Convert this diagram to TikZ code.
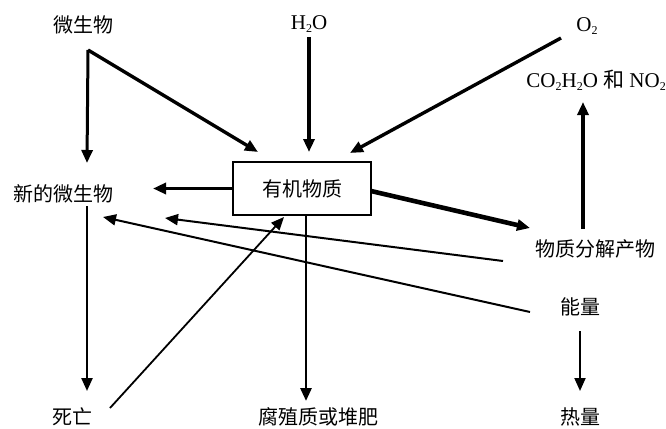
\documentclass[tikz,border=0pt]{standalone}
\usepackage{fontspec}
\setmainfont{Liberation Serif}
\newfontfamily\cjk{Noto Sans CJK SC}
\usetikzlibrary{arrows.meta,calc}
\newcommand\lowtwo{\raisebox{-0.35ex}{\fontsize{12}{12}\selectfont 2}}
\tikzset{
  lbl/.style={inner sep=0pt,font=\cjk\fontsize{20}{22}\selectfont},
  lat/.style={inner sep=0pt,font=\fontsize{21}{24}\selectfont},
  mbox/.style={draw,line width=2.4pt,minimum width=138pt,minimum height=53pt,inner sep=0pt,font=\cjk\fontsize{20}{22}\selectfont},
  arr/.style={-{Triangle[length=13pt,width=11pt]},line width=3pt},
  thinarr/.style={-{Triangle[length=13pt,width=11pt]},line width=2pt}
}
\begin{document}
\begin{tikzpicture}[x=1pt,y=-1pt]
\useasboundingbox (0,0) rectangle (666,428);
\node[lbl] (wsw) at (83,25) {微生物};
\node[lat] (h2o) at (309,24) {H\lowtwo O};
\node[lat] (o2) at (587,26) {O\lowtwo};
\node[lat,anchor=east] (co2) at (666,80) {CO\lowtwo H\lowtwo O {\cjk 和} NO\lowtwo};
\node[lbl] (new) at (63,194) {新的微生物};
\node[mbox] (box) at (302,188.5) {有机物质};
\node[lbl] (prod) at (595,249) {物质分解产物};
\node[lbl] (energy) at (580,307) {能量};
\node[lbl] (heat) at (580,417) {热量};
\node[lbl] (death) at (72,417) {死亡};
\node[lbl] (humus) at (318,417) {腐殖质或堆肥};

\draw[arr] ([xshift=5pt,yshift=-25pt]wsw.center) -- ([xshift=24pt,yshift=31pt]new.center);
\draw[arr,line width=3.4pt] ([xshift=5pt,yshift=-25pt]wsw.center) -- ([xshift=-44pt,yshift=36.5pt]box.center);
\draw[arr,line width=3.4pt] ([yshift=-13pt]h2o.center) -- ([xshift=7pt,yshift=36.5pt]box.center);
\draw[arr,line width=3.4pt] ([xshift=-26pt,yshift=-12pt]o2.center) -- ([xshift=48pt,yshift=35.5pt]box.center);
\draw[arr,line width=3.4pt] (box.west) -- ([xshift=90pt,yshift=5.5pt]new.center);
\draw[arr,line width=4.6pt] ([xshift=69pt,yshift=-2.5pt]box.center) -- ([xshift=-65pt,yshift=21pt]prod.center);
\draw[arr,line width=3.8pt] ([xshift=-12pt,yshift=20pt]prod.center) -- ($(prod.center |- co2.center)+(-12,22)$);
\draw[thinarr] ([xshift=-92pt,yshift=-12pt]prod.center) -- ([xshift=102pt,yshift=-24pt]new.center);
\draw[thinarr] ([xshift=-50pt,yshift=-5pt]energy.center) -- ([xshift=40pt,yshift=-23pt]new.center);
\draw[thinarr,line width=1.8pt] ([xshift=38pt,yshift=9pt]death.center) -- ([xshift=-18pt,yshift=-28.5pt]box.center);
\draw[thinarr,line width=2.4pt] ([xshift=24pt,yshift=-12pt]new.center) -- ([xshift=15pt,yshift=26pt]death.center);
\draw[arr,line width=2.8pt] ([xshift=4pt,yshift=-26.5pt]box.center) -- ([xshift=-12pt,yshift=16pt]humus.center);
\draw[thinarr,line width=2pt] ([yshift=-24pt]energy.center) -- ([yshift=26pt]heat.center);
\end{tikzpicture}
\end{document}
